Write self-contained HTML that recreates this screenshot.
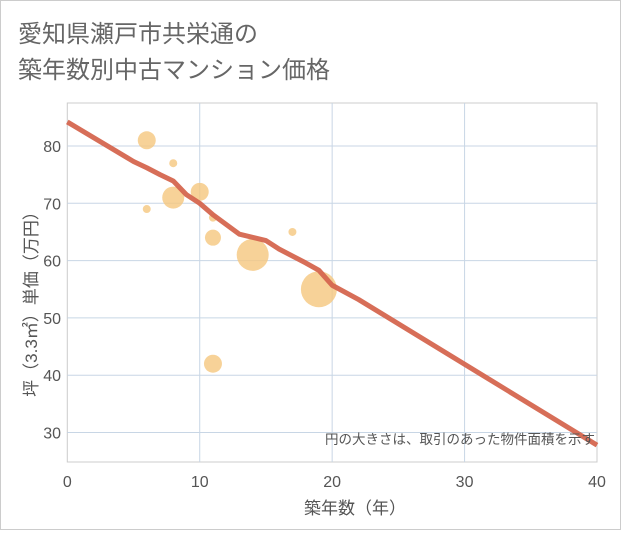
<!DOCTYPE html>
<html><head><meta charset="utf-8"><style>
body{margin:0;background:#fff;font-family:"Liberation Sans","Noto Sans CJK JP",sans-serif}
</style></head><body>
<svg width="621" height="530" xmlns="http://www.w3.org/2000/svg">
<rect x="0.5" y="0.5" width="620" height="529" fill="#fff" stroke="#ccc"/>
<text x="18" y="42" font-size="24" fill="#666" font-family="Liberation Sans,Noto Sans CJK JP,sans-serif">愛知県瀬戸市共栄通の</text>
<text x="18" y="78" font-size="24" fill="#666" font-family="Liberation Sans,Noto Sans CJK JP,sans-serif">築年数別中古マンション価格</text>
<g id="grid"></g>
<g id="bubbles"></g>
<g id="line"></g>
<text x="595" y="444" font-size="13.5" fill="#555" text-anchor="end" font-family="Liberation Sans,Noto Sans CJK JP,sans-serif">円の大きさは、取引のあった物件面積を示す</text>
<text x="355" y="514" font-size="17" fill="#555" text-anchor="middle" font-family="Liberation Sans,Noto Sans CJK JP,sans-serif">築年数（年）</text>
<text transform="translate(37,300) rotate(-90)" font-size="17" fill="#555" text-anchor="middle" font-family="Liberation Sans,Noto Sans CJK JP,sans-serif">坪（3.3㎡）単価（万円）</text>
</svg>
<script>
const xTicks=[0,10,20,30,40];
const yTicks=[30,40,50,60,70,80];
const lineX=[0,5,6,7,8,9,10,11,12,13,15,16,18,19,20,22,40];
const lineY=[84.2,77.3,76.2,75,73.9,71.5,70,68,66.3,64.6,63.5,62,59.6,58.3,55.7,53.2,27.8];
const bubX=[6,8,8,6,10,11,11,14,17,19,11];
const bubY=[81,77,71,69,72,67.5,64,61,65,55,42];
const bubR=[9,4,11,4,9,4,8,16,4,18,9];
const L=67.3,R=597,T=103,B=462;
const sx=v=>L+(v-0)*(R-L)/40;
const sy=v=>146+(80-v)*5.73;
const NS="http://www.w3.org/2000/svg";
function mk(t,a,p){const e=document.createElementNS(NS,t);for(const k in a)e.setAttribute(k,a[k]);p.appendChild(e);return e;}
const g=document.getElementById('grid');
mk('rect',{x:L,y:T,width:R-L,height:B-T,fill:'none',stroke:'#ccc'},g);
xTicks.forEach(t=>{if(t>0&&t<40){const l=mk('line',{x1:sx(t),x2:sx(t),y1:T,y2:B,stroke:'#c8d6e5','stroke-width':1},g);

}
const tx=mk('text',{x:sx(t),y:487,'font-size':16,fill:'#555','text-anchor':'middle'},g);tx.textContent=t;

});
yTicks.forEach(t=>{const l=mk('line',{x1:L,x2:R,y1:sy(t),y2:sy(t),stroke:'#c8d6e5','stroke-width':1},g);


const tx=mk('text',{x:61,y:sy(t)+6,'font-size':16,fill:'#555','text-anchor':'end'},g);tx.textContent=t;

});
const bg=document.getElementById('bubbles');
bubX.forEach((x,i)=>{const c=mk('circle',{cx:sx(x),cy:sy(bubY[i]),r:bubR[i],fill:'#f5c77e','fill-opacity':0.8},bg);

});
const lg=document.getElementById('line');
const p=mk('polyline',{points:lineX.map((x,i)=>sx(x)+','+sy(lineY[i])).join(' '),fill:'none',stroke:'#d5664f','stroke-width':5,'stroke-linejoin':'round','stroke-opacity':0.95},lg);


</script>
</body></html>
